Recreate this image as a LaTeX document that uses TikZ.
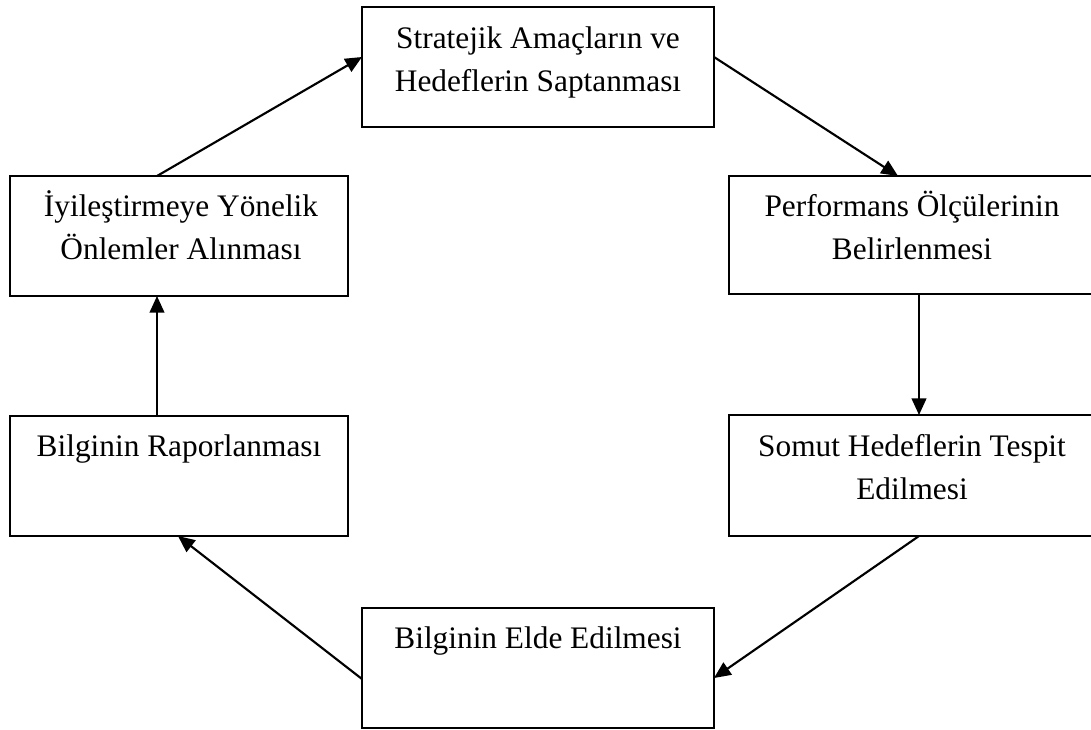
\documentclass[tikz,border=0pt]{standalone}
\usepackage{fontspec}
\setmainfont{Liberation Serif}
\usetikzlibrary{arrows.meta}
\begin{document}
\begin{tikzpicture}[x=0.75pt,y=-0.75pt,
  box/.style={draw=black, line width=1.6pt, inner sep=0pt, outer sep=0pt, fill=white},
  lbl/.style={anchor=base, inner sep=0pt, font=\fontsize{23.5pt}{32pt}\selectfont},
  link/.style={draw=black, line width=1.6pt, -{Triangle[length=12.5pt,width=11pt]}}]
  \useasboundingbox (0,0) rectangle (1091,729);
  \begin{scope}
  \clip (0,0) rectangle (1091,729);
  % the six steps of the cycle (the two right-hand boxes run past the page edge)
  \node[box, minimum width=264pt, minimum height=90pt]    (goal)  at (538,67)    {};
  \node[box, minimum width=282pt, minimum height=88.5pt]  (perf)  at (917,235)   {};
  \node[box, minimum width=282pt, minimum height=90.75pt] (somut) at (917,475.5) {};
  \node[box, minimum width=264pt, minimum height=90pt]    (elde)  at (538,668)   {};
  \node[box, minimum width=253.5pt, minimum height=90pt]  (rapor) at (179,476)   {};
  \node[box, minimum width=253.5pt, minimum height=90pt]  (iyi)   at (179,236)   {};
  \end{scope}
  % texts
  \node[lbl] (goal1)  at (538,48)  {Stratejik Amaçların ve};
  \node[lbl] (goal2)  at (538,91)  {Hedeflerin Saptanması};
  \node[lbl] (perf1)  at (912,216) {Performans Ölçülerinin};
  \node[lbl] (perf2)  at (912,259) {Belirlenmesi};
  \node[lbl] (somut1) at (912,456) {Somut Hedeflerin Tespit};
  \node[lbl] (somut2) at (912,499) {Edilmesi};
  \node[lbl] (elde1)  at (538,648) {Bilginin Elde Edilmesi};
  \node[lbl] (rapor1) at (179,456) {Bilginin Raporlanması};
  \node[lbl] (iyi1)   at (181,216) {İyileştirmeye Yönelik};
  \node[lbl] (iyi2)   at (181,259) {Önlemler Alınması};
  % connectors
  \draw[link] ([yshift=7.5pt]goal.east) -- ([xshift=-14.25pt]perf.north);
  \draw[link] ([xshift=1.5pt]perf.south) -- ([xshift=1.5pt]somut.north);
  \draw[link] ([xshift=1.5pt]somut.south) -- ([yshift=-7.5pt]elde.east);
  \draw[link] ([yshift=-8.25pt]elde.west) -- ([xshift=-0.75pt]rapor.south);
  \draw[link] ([xshift=-16.5pt]rapor.north) -- ([xshift=-16.5pt]iyi.south);
  \draw[link] ([xshift=-16.5pt]iyi.north) -- ([yshift=7.5pt]goal.west);
\end{tikzpicture}
\end{document}
